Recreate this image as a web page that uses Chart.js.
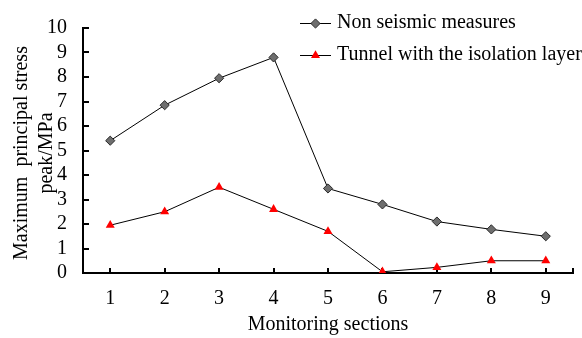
<!DOCTYPE html>
<html>
<head>
<meta charset="utf-8">
<script src="https://cdn.jsdelivr.net/npm/chart.js@4/dist/chart.umd.min.js"></script>
<style>
  html, body { margin: 0; padding: 0; background: #ffffff; }
  canvas { display: block; }
</style>
</head>
<body>
<canvas id="chart" width="582" height="338"></canvas>
<script>
// Monitoring sections along the tunnel
const sections = ['1', '2', '3', '4', '5', '6', '7', '8', '9'];
// Peak maximum principal stress (MPa)
const nonSeismic = [5.4, 6.85, 7.95, 8.8, 3.45, 2.8, 2.1, 1.78, 1.5];
const isolationLayer = [1.95, 2.5, 3.5, 2.6, 1.7, 0.05, 0.23, 0.5, 0.5];
const yTickValues = [0, 1, 2, 3, 4, 5, 6, 7, 8, 9, 10];
const seriesNames = ['Non seismic measures', 'Tunnel with the isolation layer'];
const yTitleLines = ['Maximum  principal stress', 'peak/MPa'];
const xTitle = 'Monitoring sections';

const SERIF = '"Liberation Serif", "Times New Roman", serif';

// Inward tick marks on both axes (Excel style)
const innerTicks = {
  id: 'innerTicks',
  beforeDatasetsDraw(chart) {
    const { ctx, chartArea: a, scales: { x, y } } = chart;
    ctx.save();
    ctx.strokeStyle = '#000';
    ctx.lineWidth = 2;
    ctx.beginPath();
    yTickValues.forEach(v => {
      const py = Math.round(y.getPixelForValue(v));
      ctx.moveTo(a.left, py);
      ctx.lineTo(a.left + 6, py);
    });
    const xs = sections.map((_, i) => x.getPixelForValue(i));
    xs.push(a.right);
    xs.forEach(px => {
      px = Math.round(px);
      ctx.moveTo(px, a.bottom);
      ctx.lineTo(px, a.bottom - 5);
    });
    ctx.stroke();
    ctx.restore();
  }
};

// Two-line rotated y-axis title
const yTitlePlugin = {
  id: 'yTitlePlugin',
  afterDraw(chart) {
    const { ctx } = chart;
    ctx.save();
    ctx.fillStyle = '#000';
    ctx.font = '20px ' + SERIF;
    ctx.textAlign = 'center';
    ctx.textBaseline = 'alphabetic';
    ctx.translate(0, 153);
    ctx.rotate(-Math.PI / 2);
    ctx.fillText(yTitleLines[0], 0, 27);
    ctx.fillText(yTitleLines[1], 0, 52);
    ctx.restore();
  }
};

// Legend drawn at the top right, using each dataset's own styling
const legendPlugin = {
  id: 'legendPlugin',
  afterDraw(chart) {
    const { ctx } = chart;
    const rows = [23, 55];
    ctx.save();
    chart.data.datasets.forEach((ds, i) => {
      const yy = rows[i];
      ctx.strokeStyle = ds.borderColor;
      ctx.lineWidth = ds.borderWidth;
      ctx.beginPath();
      ctx.moveTo(300, yy + 0.5);
      ctx.lineTo(331, yy + 0.5);
      ctx.stroke();
      ctx.fillStyle = ds.pointBackgroundColor;
      ctx.strokeStyle = ds.pointBorderColor;
      ctx.lineWidth = ds.pointBorderWidth;
      Chart.helpers.drawPoint(ctx, {
        pointStyle: ds.pointStyle,
        radius: ds.pointRadius,
        borderWidth: ds.pointBorderWidth,
        rotation: 0
      }, 315.5, yy + 0.5);
      ctx.fillStyle = '#000';
      ctx.font = '20px ' + SERIF;
      ctx.textAlign = 'left';
      ctx.textBaseline = 'middle';
      ctx.fillText(ds.label, 337, yy);
    });
    ctx.restore();
  }
};

const whiteBg = {
  id: 'whiteBg',
  beforeDraw(chart) {
    const { ctx } = chart;
    ctx.save();
    ctx.fillStyle = '#fff';
    ctx.fillRect(0, 0, chart.width, chart.height);
    ctx.restore();
  }
};

new Chart(document.getElementById('chart'), {
  type: 'line',
  data: {
    labels: sections,
    datasets: [
      {
        label: seriesNames[0],
        data: nonSeismic,
        borderColor: '#000',
        borderWidth: 1,
        pointStyle: 'rectRot',
        pointRadius: 4.6,
        pointBackgroundColor: '#6e6e6e',
        pointBorderColor: '#2a2a2a',
        pointBorderWidth: 1,
        tension: 0
      },
      {
        label: seriesNames[1],
        data: isolationLayer,
        borderColor: '#000',
        borderWidth: 1,
        pointStyle: 'triangle',
        pointRadius: 5.2,
        pointBackgroundColor: '#ff0000',
        pointBorderColor: '#ff0000',
        pointBorderWidth: 0,
        tension: 0
      }
    ]
  },
  options: {
    responsive: false,
    animation: false,
    events: [],
    layout: { padding: { left: 0, top: 16, right: 9, bottom: 0 } },
    plugins: {
      legend: { display: false },
      tooltip: { enabled: false }
    },
    scales: {
      x: {
        type: 'category',
        offset: true,
        grid: { display: false, drawTicks: false },
        border: { display: true, color: '#000', width: 2 },
        ticks: {
          color: '#000',
          font: { family: SERIF, size: 20 },
          padding: 14,
          maxRotation: 0,
          autoSkip: false
        },
        title: {
          display: true,
          text: xTitle,
          color: '#000',
          font: { family: SERIF, size: 20 },
          padding: { top: 0, bottom: 1 }
        },
        afterFit(scale) { scale.height = 65; }
      },
      y: {
        min: 0,
        max: 10,
        grid: { display: false, drawTicks: false },
        border: { display: true, color: '#000', width: 2 },
        ticks: {
          color: '#000',
          font: { family: SERIF, size: 20 },
          padding: 16,
          stepSize: 1,
          autoSkip: false
        },
        afterFit(scale) { scale.width = 83; }
      }
    }
  },
  plugins: [whiteBg, innerTicks, yTitlePlugin, legendPlugin]
});
</script>
</body>
</html>
